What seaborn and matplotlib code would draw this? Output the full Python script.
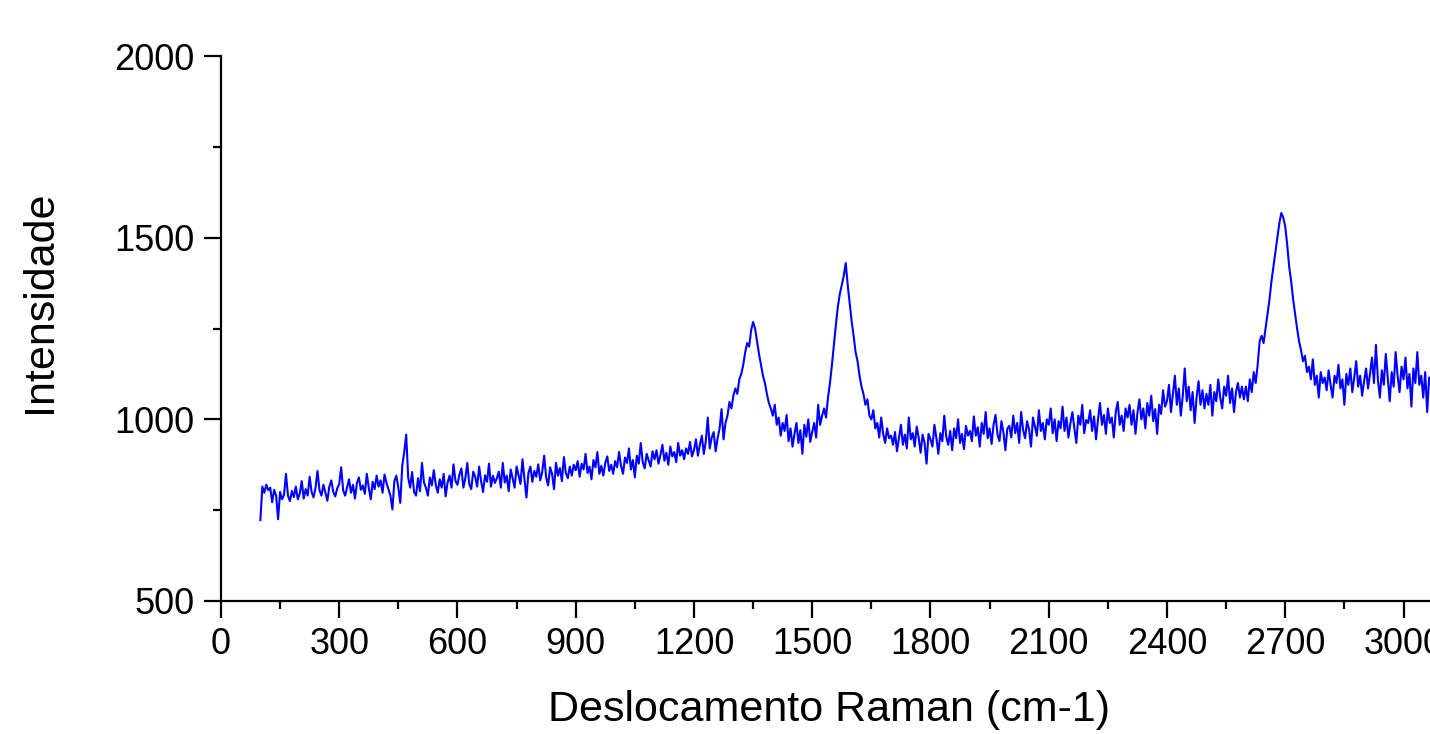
import matplotlib
matplotlib.use("Agg")
import matplotlib.pyplot as plt
import numpy as np
import pandas as pd
import seaborn as sns
from matplotlib.ticker import MultipleLocator

sns.set_theme(style="ticks")
plt.rcParams["font.family"] = ["Liberation Sans", "DejaVu Sans"]
plt.rcParams["text.color"] = "black"
plt.rcParams["axes.labelcolor"] = "black"

# Raman shift grid (cm-1), one reading every 5 cm-1
shift_start, shift_stop, shift_step = 100, 3100, 5

# intensities, segment by segment
intens_100_700 = [
    722, 815, 798, 820, 805, 812, 772, 806, 790, 725, 800, 780, 792, 850, 790, 775, 803, 786, 815, 780,
    795, 830, 782, 808, 790, 842, 800, 785, 812, 858, 805, 790, 820, 798, 776, 815, 832, 800, 788, 810,
    822, 868, 805, 790, 812, 835, 798, 820, 782, 825, 840, 806, 818, 795, 850, 812, 780, 828, 808, 845,
    815, 832, 798, 848, 825, 808, 790, 752, 830, 845, 812, 770, 872, 910, 958, 840, 812, 855, 800, 790,
    838, 802, 880, 826, 812, 790, 840, 818, 860, 820, 798, 835, 812, 850, 788, 826, 845, 812, 876, 830,
    820, 848, 865, 812, 838, 880, 822, 808, 856, 842, 815, 870, 830, 800, 846, 828, 878, 815, 845, 825,
]
intens_700_1200 = [
    838, 856, 812, 880, 826, 845, 802, 862, 838, 812, 870, 846, 822, 890, 835, 785, 852, 870, 828, 858,
    842, 876, 832, 855, 900, 840, 818, 868, 850, 808, 880, 845, 866, 830, 896, 852, 838, 870, 845, 875,
    860, 885, 842, 878, 862, 905, 852, 870, 835, 888, 868, 910, 850, 872, 845, 880, 898, 858, 875, 850,
    885, 868, 910, 872, 850, 895, 880, 920, 862, 888, 840, 900, 878, 935, 882, 865, 905, 888, 870, 912,
    890, 915, 878, 902, 930, 886, 908, 875, 925, 898, 910, 882, 935, 900, 915, 890, 920, 905, 938, 898,
]
intens_1200_1700 = [
    915, 945, 900, 930, 955, 905, 940, 1005, 920, 950, 965, 912, 948, 975, 1028, 945, 990, 1010, 1048, 1030,
    1065, 1085, 1070, 1110, 1125, 1150, 1185, 1210, 1200, 1245, 1268, 1250, 1215, 1180, 1150, 1120, 1100, 1070, 1045, 1030,
    1010, 1040, 985, 1005, 955, 990, 968, 1012, 940, 975, 925, 960, 990, 935, 970, 905, 985, 952, 1000, 938,
    965, 990, 950, 1040, 985, 1010, 1030, 1005, 1060, 1100, 1150, 1205, 1260, 1310, 1345, 1370, 1395, 1430, 1370, 1320,
    1270, 1230, 1185, 1160, 1120, 1090, 1070, 1040, 1055, 1010, 1000, 1025, 975, 990, 950, 1005, 960, 935, 975, 948,
]
intens_1700_2300 = [
    955, 930, 965, 912, 948, 985, 930, 958, 920, 1005, 945, 962, 925, 980, 950, 908, 958, 935, 878, 960,
    945, 925, 985, 948, 905, 962, 940, 1010, 952, 930, 968, 915, 975, 948, 1000, 935, 960, 918, 982, 955,
    968, 940, 1008, 955, 978, 925, 990, 960, 1020, 948, 975, 932, 985, 1012, 958, 940, 995, 965, 915, 975,
    982, 950, 1010, 962, 990, 935, 1020, 970, 948, 995, 972, 925, 1005, 980, 955, 1025, 968, 990, 945, 1000,
    985, 1030, 962, 1000, 940, 995, 975, 1035, 968, 1005, 950, 990, 1020, 975, 935, 1010, 985, 1040, 962, 998,
    990, 1025, 968, 1008, 945, 1000, 1045, 985, 1012, 960, 1030, 990, 1005, 950, 1020, 1048, 985, 1010, 968, 1030,
]
intens_2300_2600 = [
    1005, 1040, 985, 1025, 960, 1018, 1055, 1000, 1030, 975, 1045, 1010, 1065, 995, 1028, 960, 1040, 1015, 1080, 1035,
    1050, 1095, 1020, 1070, 1120, 1040, 1085, 1010, 1065, 1140, 1050, 1090, 1025, 1075, 990, 1060, 1105, 1040, 1080, 1030,
    1070, 1040, 1095, 1010, 1075, 1050, 1110, 1060, 1030, 1090, 1065, 1120, 1045, 1085, 1020, 1075, 1100, 1060, 1090, 1055,
]
intens_2600_3100 = [
    1090, 1050, 1110, 1075, 1130, 1100, 1150, 1215, 1230, 1210, 1250, 1290, 1330, 1380, 1420, 1460, 1500, 1540, 1568, 1555,
    1530, 1480, 1420, 1380, 1330, 1290, 1250, 1215, 1190, 1160, 1175, 1130, 1145, 1110, 1165, 1095, 1120, 1060, 1130, 1100,
    1115, 1080, 1135, 1095, 1060, 1120, 1100, 1150, 1085, 1110, 1040, 1125, 1095, 1140, 1075, 1115, 1160, 1090, 1120, 1065,
    1105, 1140, 1085, 1125, 1170, 1100, 1205, 1110, 1060, 1135, 1095, 1180, 1115, 1050, 1130, 1090, 1185, 1120, 1075, 1145,
    1110, 1170, 1085, 1125, 1035, 1140, 1100, 1185, 1095, 1120, 1060, 1130, 1020, 1115, 1095, 1140, 1080, 1120, 1100, 1110,
]

x_ticks = [0, 300, 600, 900, 1200, 1500, 1800, 2100, 2400, 2700, 3000]
y_ticks = [500, 1000, 1500, 2000]

intensity = (intens_100_700 + intens_700_1200 + intens_1200_1700
             + intens_1700_2300 + intens_2300_2600 + intens_2600_3100)
shift = np.arange(shift_start, shift_stop, shift_step)
df = pd.DataFrame({"shift": shift, "intensity": intensity})

fig = plt.figure(figsize=(14.3, 7.34), dpi=100)
ax = fig.add_axes([0.1545, 0.1812, 1222 / 1430, 0.7425])

sns.lineplot(data=df, x="shift", y="intensity", ax=ax, color="#0000ff",
             linewidth=1.5, estimator=None, sort=False)

ax.set_xlim(0, 3100)
ax.set_ylim(500, 2000)
ax.set_xticks(x_ticks)
ax.set_yticks(y_ticks)
ax.xaxis.set_minor_locator(MultipleLocator(150))
ax.yaxis.set_minor_locator(MultipleLocator(250))

for side in ["top", "right"]:
    ax.spines[side].set_visible(False)
for side in ["left", "bottom"]:
    ax.spines[side].set_linewidth(1.6)
    ax.spines[side].set_color("black")

ax.tick_params(which="major", direction="out", length=12, width=1.6,
               labelsize=26, pad=7, colors="black")
ax.tick_params(which="minor", direction="out", length=6, width=1.6, colors="black")

ax.set_xlabel("Deslocamento Raman (cm-1)", fontsize=31, color="black")
ax.set_ylabel("Intensidade", fontsize=31, color="black")
ax.xaxis.set_label_coords(0.498, -0.163)
ax.yaxis.set_label_coords(-0.132, 0.549)
ax.grid(False)

fig.savefig("out.png", dpi=100)
